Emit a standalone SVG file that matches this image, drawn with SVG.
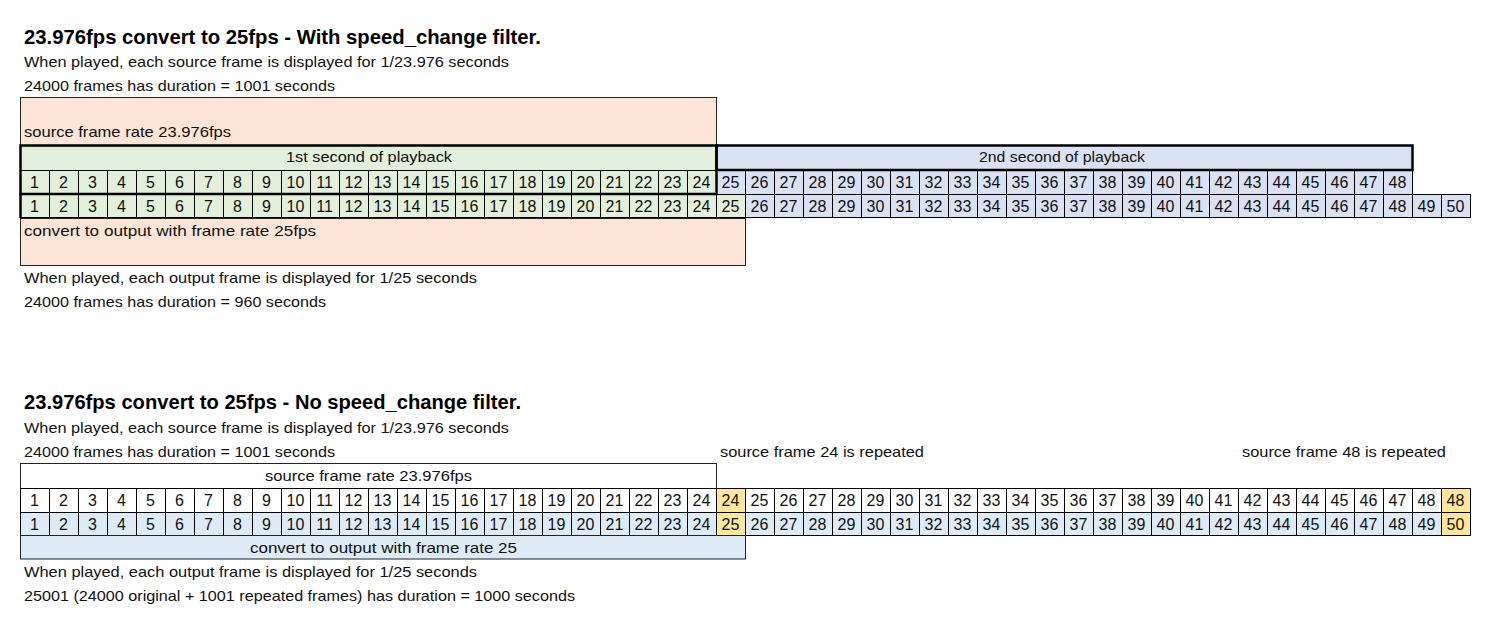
<svg xmlns="http://www.w3.org/2000/svg" width="1496" height="618" viewBox="0 0 1496 618">
<defs>
<style>
.t{font-family:"Liberation Sans",Arial,sans-serif;font-size:15px;fill:#111}
.h{font-family:"Liberation Sans",Arial,sans-serif;font-size:21px;font-weight:bold;fill:#000}
.c{text-anchor:middle}
.n{font-size:16px}
.box{stroke:#222;stroke-width:1}
.thick{fill:none;stroke:#000;stroke-width:2.5}
</style>
<pattern id="vl" patternUnits="userSpaceOnUse" x="20" y="0" width="29" height="618">
<rect x="0" y="0" width="1" height="618" fill="#000"/>
</pattern>
</defs>
<rect width="1496" height="618" fill="#fff"/>

<!-- ===== TOP DIAGRAM ===== -->
<g id="top-title">
<text class="h" x="24" y="44" textLength="517" lengthAdjust="spacingAndGlyphs">23.976fps convert to 25fps - With speed_change filter.</text>
<text class="t" x="24" y="67" textLength="485" lengthAdjust="spacingAndGlyphs">When played, each source frame is displayed for 1/23.976 seconds</text>
<text class="t" x="24" y="91" textLength="311" lengthAdjust="spacingAndGlyphs">24000 frames has duration = 1001 seconds</text>
</g>

<g id="top-source-box">
<rect class="box" x="20.5" y="97.5" width="696" height="48" fill="#FCE4D6"/>
<text class="t" x="24" y="137" textLength="207" lengthAdjust="spacingAndGlyphs">source frame rate 23.976fps</text>
</g>

<g id="top-output-box">
<rect class="box" x="20.5" y="218.5" width="725" height="47" fill="#FCE4D6"/>
<text class="t" x="24" y="236" textLength="292" lengthAdjust="spacingAndGlyphs">convert to output with frame rate 25fps</text>
</g>

<g id="top-first-second">
<rect x="20" y="145" width="696" height="25" fill="#E2EFDA"/>
<text class="t c" x="369" y="162" textLength="166" lengthAdjust="spacingAndGlyphs">1st second of playback</text>
</g>

<g id="top-second-second">
<rect x="716" y="145" width="696" height="25" fill="#D9E1F2"/>
<text class="t c" x="1062" y="162" textLength="166" lengthAdjust="spacingAndGlyphs">2nd second of playback</text>
</g>

<g id="top-source-row">
<rect x="20" y="170" width="696" height="24" fill="#E2EFDA"/>
<rect x="716" y="170" width="696" height="24" fill="#D9E1F2"/>
<rect x="20" y="170" width="1393" height="24" fill="url(#vl)"/>
<rect x="20" y="170" width="1393" height="1" fill="#000"/>
<g class="t c n">
<text x="34.5" y="188">1</text><text x="63.5" y="188">2</text><text x="92.5" y="188">3</text><text x="121.5" y="188">4</text><text x="150.5" y="188">5</text><text x="179.5" y="188">6</text><text x="208.5" y="188">7</text><text x="237.5" y="188">8</text><text x="266.5" y="188">9</text><text x="295.5" y="188">10</text><text x="324.5" y="188">11</text><text x="353.5" y="188">12</text><text x="382.5" y="188">13</text><text x="411.5" y="188">14</text><text x="440.5" y="188">15</text><text x="469.5" y="188">16</text><text x="498.5" y="188">17</text><text x="527.5" y="188">18</text><text x="556.5" y="188">19</text><text x="585.5" y="188">20</text><text x="614.5" y="188">21</text><text x="643.5" y="188">22</text><text x="672.5" y="188">23</text><text x="701.5" y="188">24</text><text x="730.5" y="188">25</text><text x="759.5" y="188">26</text><text x="788.5" y="188">27</text><text x="817.5" y="188">28</text><text x="846.5" y="188">29</text><text x="875.5" y="188">30</text><text x="904.5" y="188">31</text><text x="933.5" y="188">32</text><text x="962.5" y="188">33</text><text x="991.5" y="188">34</text><text x="1020.5" y="188">35</text><text x="1049.5" y="188">36</text><text x="1078.5" y="188">37</text><text x="1107.5" y="188">38</text><text x="1136.5" y="188">39</text><text x="1165.5" y="188">40</text><text x="1194.5" y="188">41</text><text x="1223.5" y="188">42</text><text x="1252.5" y="188">43</text><text x="1281.5" y="188">44</text><text x="1310.5" y="188">45</text><text x="1339.5" y="188">46</text><text x="1368.5" y="188">47</text><text x="1397.5" y="188">48</text>
</g>
</g>

<g id="top-output-row">
<rect x="20" y="194" width="725" height="24" fill="#E2EFDA"/>
<rect x="745" y="194" width="725" height="24" fill="#D9E1F2"/>
<rect x="20" y="194" width="1451" height="24" fill="url(#vl)"/>
<rect x="20" y="194" width="1451" height="1" fill="#000"/>
<rect x="20" y="217" width="1451" height="1" fill="#000"/>
<g class="t c n">
<text x="34.5" y="212">1</text><text x="63.5" y="212">2</text><text x="92.5" y="212">3</text><text x="121.5" y="212">4</text><text x="150.5" y="212">5</text><text x="179.5" y="212">6</text><text x="208.5" y="212">7</text><text x="237.5" y="212">8</text><text x="266.5" y="212">9</text><text x="295.5" y="212">10</text><text x="324.5" y="212">11</text><text x="353.5" y="212">12</text><text x="382.5" y="212">13</text><text x="411.5" y="212">14</text><text x="440.5" y="212">15</text><text x="469.5" y="212">16</text><text x="498.5" y="212">17</text><text x="527.5" y="212">18</text><text x="556.5" y="212">19</text><text x="585.5" y="212">20</text><text x="614.5" y="212">21</text><text x="643.5" y="212">22</text><text x="672.5" y="212">23</text><text x="701.5" y="212">24</text><text x="730.5" y="212">25</text><text x="759.5" y="212">26</text><text x="788.5" y="212">27</text><text x="817.5" y="212">28</text><text x="846.5" y="212">29</text><text x="875.5" y="212">30</text><text x="904.5" y="212">31</text><text x="933.5" y="212">32</text><text x="962.5" y="212">33</text><text x="991.5" y="212">34</text><text x="1020.5" y="212">35</text><text x="1049.5" y="212">36</text><text x="1078.5" y="212">37</text><text x="1107.5" y="212">38</text><text x="1136.5" y="212">39</text><text x="1165.5" y="212">40</text><text x="1194.5" y="212">41</text><text x="1223.5" y="212">42</text><text x="1252.5" y="212">43</text><text x="1281.5" y="212">44</text><text x="1310.5" y="212">45</text><text x="1339.5" y="212">46</text><text x="1368.5" y="212">47</text><text x="1397.5" y="212">48</text><text x="1426.5" y="212">49</text><text x="1455.5" y="212">50</text>
</g>
</g>

<g id="top-thick-borders">
<rect class="thick" x="20.5" y="145.5" width="696" height="48.5"/>
<rect class="thick" x="716.5" y="145.5" width="696" height="24.5"/>
<line x1="20.5" y1="194" x2="20.5" y2="218" stroke="#000" stroke-width="2.5"/>
</g>

<g id="top-notes">
<text class="t" x="24" y="283" textLength="453" lengthAdjust="spacingAndGlyphs">When played, each output frame is displayed for 1/25 seconds</text>
<text class="t" x="24" y="307" textLength="302" lengthAdjust="spacingAndGlyphs">24000 frames has duration = 960 seconds</text>
</g>

<!-- ===== BOTTOM DIAGRAM ===== -->
<g id="bottom-title">
<text class="h" x="24" y="409" textLength="497" lengthAdjust="spacingAndGlyphs">23.976fps convert to 25fps - No speed_change filter.</text>
<text class="t" x="24" y="433" textLength="485" lengthAdjust="spacingAndGlyphs">When played, each source frame is displayed for 1/23.976 seconds</text>
<text class="t" x="24" y="457" textLength="311" lengthAdjust="spacingAndGlyphs">24000 frames has duration = 1001 seconds</text>
</g>

<g id="bottom-repeat-24">
<text class="t" x="720" y="457" textLength="204" lengthAdjust="spacingAndGlyphs">source frame 24 is repeated</text>
</g>
<g id="bottom-repeat-48">
<text class="t" x="1242" y="457" textLength="204" lengthAdjust="spacingAndGlyphs">source frame 48 is repeated</text>
</g>

<g id="bottom-source-box">
<rect class="box" x="20.5" y="463.5" width="696" height="25" fill="#fff"/>
<text class="t c" x="368.5" y="481" textLength="207" lengthAdjust="spacingAndGlyphs">source frame rate 23.976fps</text>
</g>

<g id="bottom-source-row">
<rect x="20" y="488" width="1450" height="24" fill="#fff"/>
<rect x="716" y="488" width="29" height="24" fill="#FFE699"/>
<rect x="1441" y="488" width="29" height="24" fill="#FFE699"/>
<rect x="20" y="488" width="1451" height="24" fill="url(#vl)"/>
<rect x="20" y="488" width="1451" height="1" fill="#000"/>
<g class="t c n">
<text x="34.5" y="506">1</text><text x="63.5" y="506">2</text><text x="92.5" y="506">3</text><text x="121.5" y="506">4</text><text x="150.5" y="506">5</text><text x="179.5" y="506">6</text><text x="208.5" y="506">7</text><text x="237.5" y="506">8</text><text x="266.5" y="506">9</text><text x="295.5" y="506">10</text><text x="324.5" y="506">11</text><text x="353.5" y="506">12</text><text x="382.5" y="506">13</text><text x="411.5" y="506">14</text><text x="440.5" y="506">15</text><text x="469.5" y="506">16</text><text x="498.5" y="506">17</text><text x="527.5" y="506">18</text><text x="556.5" y="506">19</text><text x="585.5" y="506">20</text><text x="614.5" y="506">21</text><text x="643.5" y="506">22</text><text x="672.5" y="506">23</text><text x="701.5" y="506">24</text><text x="730.5" y="506">24</text><text x="759.5" y="506">25</text><text x="788.5" y="506">26</text><text x="817.5" y="506">27</text><text x="846.5" y="506">28</text><text x="875.5" y="506">29</text><text x="904.5" y="506">30</text><text x="933.5" y="506">31</text><text x="962.5" y="506">32</text><text x="991.5" y="506">33</text><text x="1020.5" y="506">34</text><text x="1049.5" y="506">35</text><text x="1078.5" y="506">36</text><text x="1107.5" y="506">37</text><text x="1136.5" y="506">38</text><text x="1165.5" y="506">39</text><text x="1194.5" y="506">40</text><text x="1223.5" y="506">41</text><text x="1252.5" y="506">42</text><text x="1281.5" y="506">43</text><text x="1310.5" y="506">44</text><text x="1339.5" y="506">45</text><text x="1368.5" y="506">46</text><text x="1397.5" y="506">47</text><text x="1426.5" y="506">48</text><text x="1455.5" y="506">48</text>
</g>
</g>

<g id="bottom-output-row">
<rect x="20" y="512" width="1450" height="24" fill="#DDEBF7"/>
<rect x="716" y="512" width="29" height="24" fill="#FFE699"/>
<rect x="1441" y="512" width="29" height="24" fill="#FFE699"/>
<rect x="20" y="512" width="1451" height="24" fill="url(#vl)"/>
<rect x="20" y="512" width="1451" height="1" fill="#000"/>
<rect x="20" y="535" width="1451" height="1" fill="#000"/>
<g class="t c n">
<text x="34.5" y="530">1</text><text x="63.5" y="530">2</text><text x="92.5" y="530">3</text><text x="121.5" y="530">4</text><text x="150.5" y="530">5</text><text x="179.5" y="530">6</text><text x="208.5" y="530">7</text><text x="237.5" y="530">8</text><text x="266.5" y="530">9</text><text x="295.5" y="530">10</text><text x="324.5" y="530">11</text><text x="353.5" y="530">12</text><text x="382.5" y="530">13</text><text x="411.5" y="530">14</text><text x="440.5" y="530">15</text><text x="469.5" y="530">16</text><text x="498.5" y="530">17</text><text x="527.5" y="530">18</text><text x="556.5" y="530">19</text><text x="585.5" y="530">20</text><text x="614.5" y="530">21</text><text x="643.5" y="530">22</text><text x="672.5" y="530">23</text><text x="701.5" y="530">24</text><text x="730.5" y="530">25</text><text x="759.5" y="530">26</text><text x="788.5" y="530">27</text><text x="817.5" y="530">28</text><text x="846.5" y="530">29</text><text x="875.5" y="530">30</text><text x="904.5" y="530">31</text><text x="933.5" y="530">32</text><text x="962.5" y="530">33</text><text x="991.5" y="530">34</text><text x="1020.5" y="530">35</text><text x="1049.5" y="530">36</text><text x="1078.5" y="530">37</text><text x="1107.5" y="530">38</text><text x="1136.5" y="530">39</text><text x="1165.5" y="530">40</text><text x="1194.5" y="530">41</text><text x="1223.5" y="530">42</text><text x="1252.5" y="530">43</text><text x="1281.5" y="530">44</text><text x="1310.5" y="530">45</text><text x="1339.5" y="530">46</text><text x="1368.5" y="530">47</text><text x="1397.5" y="530">48</text><text x="1426.5" y="530">49</text><text x="1455.5" y="530">50</text>
</g>
</g>

<g id="bottom-output-box">
<rect class="box" x="20.5" y="535.5" width="725" height="23.5" fill="#DDEBF7"/>
<text class="t c" x="383.5" y="553" textLength="267" lengthAdjust="spacingAndGlyphs">convert to output with frame rate 25</text>
</g>

<g id="bottom-notes">
<text class="t" x="24" y="577" textLength="453" lengthAdjust="spacingAndGlyphs">When played, each output frame is displayed for 1/25 seconds</text>
<text class="t" x="24" y="601" textLength="551" lengthAdjust="spacingAndGlyphs">25001 (24000 original + 1001 repeated frames) has duration = 1000 seconds</text>
</g>

<g id="connectors"></g>
</svg>
